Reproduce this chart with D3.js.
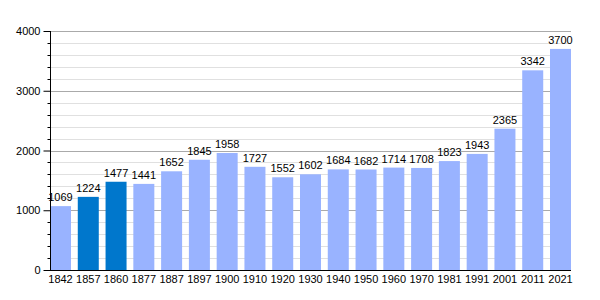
<!DOCTYPE html>
<html><head><meta charset="utf-8">
<script src="https://cdn.jsdelivr.net/npm/d3@7"></script>
<style>body{margin:0;background:#fff}svg{display:block}text{font-family:"Liberation Sans",Arial,sans-serif}</style>
</head><body>
<svg id="c" width="600" height="300"></svg>
<script>
const years = ["1842","1857","1860","1877","1887","1897","1900","1910","1920","1930","1940","1950","1960","1970","1981","1991","2001","2011","2021"];
const population = [1069,1224,1477,1441,1652,1845,1958,1727,1552,1602,1684,1682,1714,1708,1823,1943,2365,3342,3700];
const highlighted = ["1857","1860"];
const yTicks = [0,1000,2000,3000,4000];

const svg = d3.select("#c");
const x = d3.scaleBand().domain(years).range([50,571]).paddingInner(0.244).paddingOuter(0).align(0);
const y = d3.scaleLinear().domain([0,4000]).range([270,31]);

const minor = d3.range(0,4001,200).filter(v=>v%1000!==0);
svg.append("g").selectAll("line").data(minor).join("line")
  .attr("x1",50).attr("x2",571).attr("y1",d=>Math.round(y(d))+0.5).attr("y2",d=>Math.round(y(d))+0.5)
  .attr("stroke","#e0e0e0");
svg.append("g").selectAll("line").data(yTicks.filter(v=>v>0)).join("line")
  .attr("x1",50).attr("x2",571).attr("y1",d=>Math.round(y(d))+0.5).attr("y2",d=>Math.round(y(d))+0.5)
  .attr("stroke","#aaaaaa");

svg.append("g").selectAll("rect").data(years).join("rect")
  .attr("x",d=>x(d)).attr("width",x.bandwidth())
  .attr("y",(d,i)=>y(population[i])).attr("height",(d,i)=>270-y(population[i]))
  .attr("fill",d=>highlighted.includes(d)?"#0077cc":"#99b3ff");

svg.append("g").selectAll("text").data(years).join("text")
  .attr("x",d=>x(d)+x.bandwidth()/2).attr("y",(d,i)=>y(population[i])-5)
  .attr("text-anchor","middle").attr("font-size",11).attr("fill","#000")
  .text((d,i)=>population[i]);

// y axis
const ya = svg.append("g").attr("transform","translate(50.5,0)");
ya.call(d3.axisLeft(y).tickValues(yTicks).tickSize(7).tickPadding(3).tickFormat(d3.format("d")));
ya.select(".domain").remove();
ya.selectAll("text").attr("font-size",11).attr("fill","#000").style("font-family","'Liberation Sans',Arial,sans-serif");
ya.selectAll(".tick line").attr("stroke","#000");
ya.append("g").selectAll("line").data(minor).join("line")
  .attr("x1",-3).attr("x2",0).attr("y1",d=>Math.round(y(d))+0.5).attr("y2",d=>Math.round(y(d))+0.5).attr("stroke","#000");
svg.append("line").attr("x1",50.5).attr("x2",50.5).attr("y1",31).attr("y2",270).attr("stroke","#000");

// x axis
const xa = svg.append("g").attr("transform","translate(0,270)");
xa.call(d3.axisBottom(x).tickSize(0).tickPadding(5));
xa.select(".domain").remove();
xa.selectAll("text").attr("font-size",11).attr("fill","#000").style("font-family","'Liberation Sans',Arial,sans-serif");
svg.append("line").attr("x1",50).attr("x2",571).attr("y1",270.5).attr("y2",270.5).attr("stroke","#000");
</script>
</body></html>
